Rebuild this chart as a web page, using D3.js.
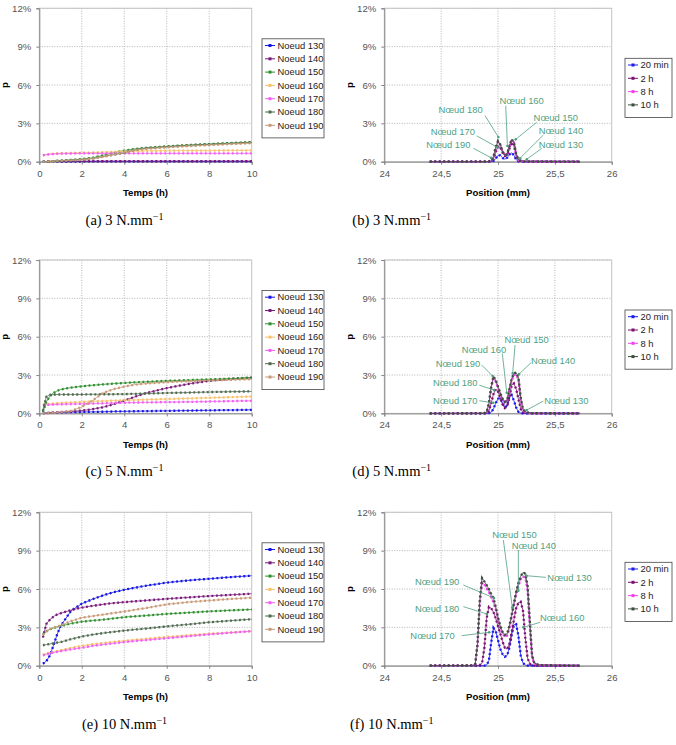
<!DOCTYPE html>
<html><head><meta charset="utf-8">
<script src="https://cdn.jsdelivr.net/npm/d3@7"></script>
<style>body{margin:0;background:#fff}svg{display:block}</style>
</head><body>
<svg id="c" width="676" height="745"></svg>
<script>
// ---------- DATA ----------
const times = [0.17,0.33,0.5,0.67,0.83,1,1.5,2,2.5,3,3.5,4,4.5,5,6,7,8,9,10];
const nodeNames = ["Noeud 130","Noeud 140","Noeud 150","Noeud 160","Noeud 170","Noeud 180","Noeud 190"];
// (a) 3 N/mm, p (%) per node
const valsA = [
  [0.01,0.01,0.01,0.01,0.01,0.01,0.01,0.02,0.02,0.02,0.02,0.02,0.02,0.02,0.02,0.02,0.02,0.02,0.02],
  [0.01,0.02,0.02,0.03,0.03,0.03,0.04,0.04,0.04,0.05,0.05,0.05,0.05,0.05,0.05,0.05,0.05,0.05,0.05],
  [0.0,0.01,0.03,0.05,0.07,0.09,0.14,0.2,0.3,0.5,0.7,0.87,1.0,1.08,1.2,1.3,1.38,1.46,1.53],
  [0.5,0.55,0.6,0.63,0.65,0.66,0.68,0.7,0.72,0.74,0.77,0.8,0.82,0.84,0.86,0.87,0.87,0.88,0.88],
  [0.5,0.55,0.58,0.6,0.62,0.63,0.64,0.65,0.65,0.65,0.65,0.65,0.65,0.65,0.65,0.65,0.65,0.65,0.65],
  [0.0,0.01,0.02,0.04,0.06,0.08,0.12,0.17,0.25,0.4,0.55,0.7,0.92,1.05,1.17,1.27,1.36,1.43,1.5],
  [0.0,0.01,0.02,0.03,0.05,0.07,0.1,0.15,0.25,0.38,0.55,0.72,0.9,1.0,1.12,1.22,1.3,1.38,1.45]
];
// (c) 5 N/mm
const valsC = [
  [0.02,0.04,0.05,0.06,0.07,0.08,0.1,0.11,0.12,0.13,0.15,0.16,0.17,0.18,0.2,0.22,0.24,0.26,0.28],
  [0.0,0.02,0.04,0.06,0.08,0.1,0.15,0.22,0.33,0.48,0.72,1.0,1.3,1.58,1.98,2.3,2.55,2.7,2.8],
  [0.1,0.9,1.35,1.6,1.75,1.87,2.02,2.12,2.2,2.27,2.33,2.38,2.43,2.47,2.55,2.6,2.66,2.72,2.8],
  [0.7,0.72,0.75,0.78,0.8,0.82,0.86,0.9,0.94,0.97,1.0,1.03,1.05,1.08,1.12,1.17,1.22,1.27,1.32],
  [0.65,0.67,0.68,0.69,0.7,0.71,0.73,0.75,0.77,0.79,0.81,0.83,0.85,0.86,0.88,0.9,0.93,0.96,0.99],
  [0.2,1.3,1.45,1.47,1.48,1.48,1.48,1.48,1.49,1.5,1.5,1.51,1.53,1.55,1.6,1.63,1.67,1.7,1.72],
  [0.0,0.02,0.04,0.06,0.08,0.1,0.2,0.5,1.0,1.6,1.9,2.1,2.25,2.33,2.45,2.52,2.58,2.63,2.68]
];
// (e) 10 N/mm
const valsE = [
  [0.15,0.35,0.8,1.6,2.4,3.1,4.3,4.85,5.2,5.5,5.75,5.94,6.1,6.25,6.5,6.67,6.8,6.93,7.04],
  [2.2,3.27,3.6,3.85,4.0,4.1,4.35,4.55,4.68,4.8,4.9,4.97,5.04,5.1,5.23,5.34,5.45,5.54,5.63],
  [2.43,2.7,2.85,2.95,3.03,3.1,3.3,3.45,3.53,3.6,3.7,3.8,3.86,3.92,4.05,4.15,4.25,4.33,4.4],
  [0.85,0.95,1.02,1.08,1.14,1.2,1.4,1.55,1.68,1.78,1.87,1.95,2.03,2.1,2.25,2.38,2.5,2.6,2.7],
  [0.8,0.9,0.97,1.03,1.08,1.13,1.28,1.4,1.55,1.65,1.75,1.85,1.93,2.0,2.15,2.3,2.45,2.58,2.7],
  [1.6,1.65,1.7,1.75,1.8,1.85,2.08,2.28,2.43,2.55,2.65,2.75,2.83,2.9,3.08,3.23,3.4,3.52,3.64],
  [2.4,2.65,2.85,2.97,3.06,3.15,3.5,3.75,3.88,4.0,4.12,4.24,4.38,4.5,4.8,4.97,5.1,5.22,5.32]
];

const timeNames = ["20 min","2 h","8 h","10 h"];
// (b) 3 N/mm profiles
const posB = [24.4,24.9,24.94,24.96,24.98,25.0,25.02,25.04,25.06,25.08,25.1,25.12,25.14,25.16,25.18,25.22,25.72];
const profB = [
  [0,0,0,0.05,0.25,0.5,0.5,0.3,0.2,0.3,0.55,0.7,0.5,0.15,0.02,0,0],
  [0,0,0.02,0.2,0.75,1.2,1.1,0.7,0.45,0.5,1.0,1.5,1.3,0.45,0.08,0.01,0],
  [0,0,0.04,0.35,1.05,1.55,1.3,0.8,0.5,0.55,1.2,1.68,1.5,0.55,0.12,0.02,0],
  [0,0,0.05,0.4,1.15,1.62,1.35,0.82,0.52,0.58,1.25,1.75,1.55,0.6,0.15,0.03,0]
];
// (d) 5 N/mm profiles
const posD = [24.4,24.88,24.9,24.92,24.94,24.96,24.98,25.0,25.02,25.04,25.06,25.08,25.1,25.12,25.14,25.16,25.18,25.2,25.22,25.25,25.3,25.72];
const profD = [
  [0,0,0,0.02,0.1,0.35,0.8,1.15,1.2,0.8,0.48,0.6,1.3,1.45,1.0,0.45,0.12,0.03,0,0,0,0],
  [0,0,0.02,0.2,0.8,1.5,1.9,1.7,1.2,0.7,0.42,0.55,1.2,2.2,2.35,1.9,1.1,0.35,0.08,0.02,0,0],
  [0,0.02,0.08,0.7,2.0,2.75,2.5,2.0,1.5,1.1,0.85,0.95,1.8,2.55,3.0,3.05,2.6,1.0,0.25,0.06,0.01,0],
  [0,0.02,0.1,0.8,2.1,2.9,2.6,2.1,1.6,1.15,0.9,1.0,1.9,2.7,3.15,3.2,2.8,1.2,0.3,0.08,0.02,0]
];
// (f) 10 N/mm profiles
const posF = [24.4,24.78,24.8,24.82,24.84,24.86,24.88,24.9,24.92,24.94,24.96,24.98,25.0,25.02,25.04,25.06,25.08,25.1,25.12,25.14,25.16,25.18,25.2,25.22,25.24,25.26,25.28,25.3,25.32,25.36,25.72];
const profF = [
  [0,0,0,0,0,0,0.01,0.05,0.4,1.8,2.95,2.7,2.0,1.3,0.9,0.7,0.8,1.4,2.4,3.2,3.25,2.3,0.8,0.2,0.05,0.01,0,0,0,0,0],
  [0,0,0,0.02,0.05,0.2,1.4,3.7,4.6,4.5,4.2,3.7,3.1,2.5,1.9,1.4,1.3,1.7,2.6,3.6,4.5,4.95,5.0,4.3,2.2,0.6,0.15,0.05,0.01,0,0],
  [0,0.02,0.12,1.5,4.8,6.5,6.35,6.05,5.75,5.35,4.95,4.4,3.6,2.95,2.5,2.25,2.35,2.9,3.8,4.7,5.55,6.25,6.75,7.0,6.9,5.9,3.0,0.6,0.15,0.04,0],
  [0,0.02,0.15,1.8,5.2,6.85,6.6,6.3,6.0,5.6,5.3,4.6,3.8,3.1,2.65,2.4,2.5,3.1,4.0,4.9,5.8,6.5,7.0,7.3,7.2,6.3,3.5,0.8,0.2,0.05,0]
];

// annotations: [label, textPos, textP, fromPos, fromP, toPos, toP]
const annB = [
  ["Nœud 180",24.671,4.07,24.886,3.60,25.003,1.93],
  ["Nœud 170",24.603,2.35,24.813,2.02,24.994,1.13],
  ["Nœud 190",24.563,1.36,24.783,1.05,24.939,0.31],
  ["Nœud 160",25.208,4.77,25.068,4.38,25.083,1.23],
  ["Nœud 150",25.508,3.44,25.340,3.08,25.156,1.75],
  ["Nœud 140",25.554,2.43,25.399,2.09,25.194,0.27],
  ["Nœud 130",25.554,1.31,25.385,1.05,25.253,0.19]
];
const annD = [
  ["Nœud 150",25.252,5.73,25.150,5.34,25.129,3.13],
  ["Nœud 160",24.877,5.01,25.038,4.69,25.077,1.61],
  ["Nœud 190",24.648,3.91,24.857,3.78,24.953,2.92],
  ["Nœud 140",25.484,4.11,25.290,3.96,25.185,3.07],
  ["Nœud 180",24.624,2.39,24.836,2.21,24.967,1.82],
  ["Nœud 170",24.624,0.99,24.836,0.99,24.959,0.83],
  ["Nœud 130",25.601,0.99,25.398,0.96,25.252,0.26]
];
const annF = [
  ["Nœud 150",25.145,10.22,25.047,9.83,25.126,4.56],
  ["Nœud 140",25.315,9.39,25.179,9.05,25.179,5.87],
  ["Nœud 130",25.629,6.91,25.422,6.91,25.252,7.04],
  ["Nœud 190",24.465,6.60,24.695,6.31,24.965,5.30],
  ["Nœud 180",24.465,4.48,24.695,4.62,24.901,4.05],
  ["Nœud 160",25.565,3.78,25.369,3.39,25.223,3.00],
  ["Nœud 170",24.424,2.35,24.681,2.35,24.923,2.61]
];

const yTicks = [0,3,6,9,12];
const timeTicks = [0,2,4,6,8,10];
const posTicks = [24,24.5,25,25.5,26];
const posTickLabels = ["24","24,5","25","25,5","26"];
const captions = [
  ["(a) 3 N.mm","(b) 3 N.mm"],
  ["(c) 5 N.mm","(d) 5 N.mm"],
  ["(e) 10 N.mm","(f) 10 N.mm"]
];

// ---------- STYLE ----------
const nodeColors = ["#1515e6","#7a1a7a","#2f8f2f","#f7c06a","#f060f0","#4f6a4f","#c99a76"];
const timeColors = ["#1a1aee","#7a1070","#f040f0","#3b4d3b"];
const annColor = "#4f9f80";
const FONT = "'Liberation Sans', Arial, sans-serif";

const svg = d3.select("#c");
const rowTops = [8.3, 260, 512.3];
const PH = 153.4;
const leftX = [39.3, 251.7], rightX = [384.3, 611.7];

function drawSeries(g, xs, ys, x, y, color) {
  const line = d3.line().x((d,i)=>x(xs[i])).y(d=>y(d));
  g.append("path").attr("d", line(ys)).attr("fill","none")
    .attr("stroke", color).attr("stroke-width", 0.9).attr("stroke-opacity", 0.85);
  g.append("path").attr("d", line(ys)).attr("fill","none")
    .attr("stroke", color).attr("stroke-width", 2.3)
    .attr("stroke-dasharray","1.9 2.6");
}

function frame(g, x, y, xTicks, xFmt, y0, y1, x0, x1) {
  g.selectAll(null).data(yTicks.filter(d=>d>0)).join("line")
    .attr("x1",x0).attr("x2",x1).attr("y1",d=>y(d)).attr("y2",d=>y(d))
    .attr("stroke","#b4b4b4").attr("stroke-width",1).attr("stroke-dasharray","1 1.5");
  g.selectAll(null).data(xTicks.slice(1,-1)).join("line")
    .attr("y1",y0).attr("y2",y1).attr("x1",d=>x(d)).attr("x2",d=>x(d))
    .attr("stroke","#b4b4b4").attr("stroke-width",1).attr("stroke-dasharray","1 1.5");
  g.append("rect").attr("x",x0).attr("y",y0).attr("width",x1-x0).attr("height",y1-y0)
    .attr("fill","none").attr("stroke","#c4c4c4").attr("stroke-width",1);
  const ax = g.append("g").attr("transform",`translate(${x0},0)`)
    .call(d3.axisLeft(y).tickValues(yTicks).tickFormat(d=>d+"%").tickSize(3).tickPadding(5));
  const bx = g.append("g").attr("transform",`translate(0,${y1})`)
    .call(d3.axisBottom(x).tickValues(xTicks).tickFormat(xFmt).tickSize(3).tickPadding(5));
  [ax,bx].forEach(a=>{
    a.select(".domain").attr("stroke","#858585");
    a.selectAll(".tick line").attr("stroke","#858585");
    a.selectAll("text").attr("fill","#555").style("font-family",FONT).style("font-size","9.6px");
  });
}

function legend(g, x0, yTop, w, names, colors) {
  const h = names.length*13.3 + 6;
  g.append("rect").attr("x",x0).attr("y",yTop).attr("width",w).attr("height",h)
    .attr("fill","#fff").attr("stroke","#444").attr("stroke-width",0.8);
  names.forEach((n,i)=>{
    const cy = yTop + 6.7 + i*13.3;
    g.append("line").attr("x1",x0+3).attr("x2",x0+13).attr("y1",cy).attr("y2",cy)
      .attr("stroke",colors[i]).attr("stroke-width",1);
    g.append("rect").attr("x",x0+6.5).attr("y",cy-1.5).attr("width",3).attr("height",3).attr("fill",colors[i]);
    g.append("text").attr("x",x0+15.5).attr("y",cy).attr("dy","0.35em").text(n)
      .attr("fill","#222").style("font-family",FONT).style("font-size","9.4px");
  });
}

function caption(g, cx, cy, txt) {
  const t = g.append("text").attr("x",cx).attr("y",cy).attr("text-anchor","middle")
    .attr("dy","0.35em").style("font-family","'Liberation Serif','Times New Roman',serif")
    .style("font-size","14.5px").attr("fill","#000");
  t.append("tspan").text(txt);
  t.append("tspan").text("\u22121").attr("dy","-5").style("font-size","10px");
}

const leftVals = [valsA, valsC, valsE];
const rightPos = [posB, posD, posF];
const rightProf = [profB, profD, profF];
const rightAnn = [annB, annD, annF];

rowTops.forEach((top, r) => {
  const y0 = top, y1 = top + PH;
  const y = d3.scaleLinear().domain([0,12]).range([y1, y0]);
  {
    const g = svg.append("g");
    const x = d3.scaleLinear().domain([0,10]).range(leftX);
    frame(g, x, y, timeTicks, d=>d, y0, y1, leftX[0], leftX[1]);
    leftVals[r].forEach((vals,i)=>drawSeries(g, times, vals, x, y, nodeColors[i]));
    g.append("text").attr("x",(leftX[0]+leftX[1])/2).attr("y",y1+31).attr("dy","0.35em")
      .attr("text-anchor","middle").text("Temps (h)")
      .style("font-family",FONT).style("font-size","9.6px").style("font-weight","bold");
    g.append("text").attr("transform",`translate(${leftX[0]-35},${(y0+y1)/2}) rotate(-90)`)
      .attr("text-anchor","middle").attr("dy","0.35em").text("p")
      .style("font-family",FONT).style("font-size","9.6px").style("font-weight","bold");
    legend(g, 262, y0+30.5, 62, nodeNames, nodeColors);
    caption(g, 124.5, y1+58, captions[r][0]);
  }
  {
    const g = svg.append("g");
    const x = d3.scaleLinear().domain([24,26]).range(rightX);
    frame(g, x, y, posTicks, (d,i)=>posTickLabels[i], y0, y1, rightX[0], rightX[1]);
    rightProf[r].forEach((vals,i)=>drawSeries(g, rightPos[r], vals, x, y, timeColors[i]));
    rightAnn[r].forEach(a=>{
      g.append("line").attr("x1",x(a[3])).attr("y1",y(a[4])).attr("x2",x(a[5])).attr("y2",y(a[6]))
        .attr("stroke",annColor).attr("stroke-width",0.8);
      g.append("circle").attr("cx",x(a[5])).attr("cy",y(a[6])).attr("r",1.3).attr("fill",annColor);
      g.append("text").attr("x",x(a[1])).attr("y",y(a[2])).attr("dy","0.35em")
        .attr("text-anchor","middle").text(a[0]).attr("fill",annColor)
        .style("font-family",FONT).style("font-size","9.4px");
    });
    g.append("text").attr("x",(rightX[0]+rightX[1])/2).attr("y",y1+31).attr("dy","0.35em")
      .attr("text-anchor","middle").text("Position (mm)")
      .style("font-family",FONT).style("font-size","9.6px").style("font-weight","bold");
    g.append("text").attr("transform",`translate(${rightX[0]-35},${(y0+y1)/2}) rotate(-90)`)
      .attr("text-anchor","middle").attr("dy","0.35em").text("p")
      .style("font-family",FONT).style("font-size","9.6px").style("font-weight","bold");
    legend(g, 625, y0+50, 47, timeNames, timeColors);
    caption(g, 391.7, y1+58, captions[r][1]);
  }
});
</script>
</body></html>
